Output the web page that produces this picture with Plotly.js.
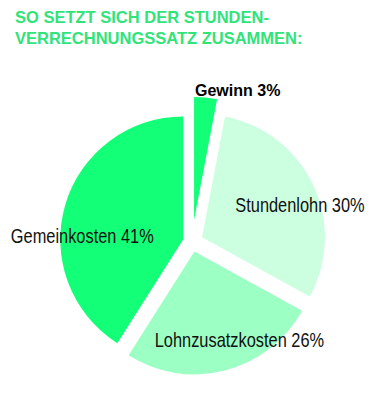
<!DOCTYPE html>
<html>
<head>
<meta charset="utf-8">
<script src="https://cdn.plot.ly/plotly-3.0.1.min.js"></script>
<style>
html,body{margin:0;padding:0;background:#fff;}
#chart{width:388px;height:395px;}
.annotation[data-index="2"] text,
.annotation[data-index="3"] text,
.annotation[data-index="4"] text{
  transform: scaleX(0.82); transform-box: fill-box; transform-origin: center;
}
</style>
</head>
<body>
<div id="chart"></div>
<script>
const labels = ['Gewinn', 'Stundenlohn', 'Lohnzusatzkosten', 'Gemeinkosten'];
const values = [3, 30, 26, 41];
const colors = ['#14ff78', '#ccffe0', '#9cffc4', '#14ff78'];
const pulls = [0.18, 0.09, 0.08, 0.075];
// label placement (pixels from top-left) and styles
const labelX = [193, 300, 239, 82];
const labelY = [90, 205, 340, 236];
const labelAnchor = ['left', 'center', 'center', 'center'];
const labelBold = [true, false, false, false];
const titleText = 'SO SETZT SICH DER STUNDEN-<br>VERRECHNUNGSSATZ ZUSAMMEN:';

const W = 388, H = 395;
const plain = '"Liberation Sans", Arial, sans-serif';

const annotations = [{
  text: '<b>' + titleText + '</b>',
  xref: 'paper', yref: 'paper',
  x: 13 / W, y: 1 - 6 / H, xanchor: 'left', yanchor: 'top', align: 'left',
  showarrow: false,
  font: {family: plain, size: 16.5, color: '#30e47a'}
}].concat(labels.map((l, i) => ({
  text: labelBold[i] ? '<b>' + l + ' ' + values[i] + '%</b>' : l + ' ' + values[i] + '%',
  xref: 'paper', yref: 'paper',
  x: labelX[i] / W, y: 1 - labelY[i] / H,
  xanchor: labelAnchor[i], yanchor: 'middle',
  showarrow: false,
  font: labelBold[i] ? {family: plain, size: 16, color: '#000'} : {family: plain, size: 20, color: '#111'}
})));

const data = [{
  type: 'pie',
  labels: labels,
  values: values,
  sort: false,
  direction: 'clockwise',
  rotation: 0,
  pull: pulls,
  marker: {colors: colors, line: {width: 0}},
  textinfo: 'none',
  hoverinfo: 'label+percent',
  domain: {x: [47 / W, 337 / W], y: [1 - 387 / H, 1 - 97 / H]},
  showlegend: false
}];

const layout = {
  width: W, height: H,
  margin: {l: 0, r: 0, t: 0, b: 0},
  paper_bgcolor: '#fff',
  annotations: annotations,
  showlegend: false
};

Plotly.newPlot('chart', data, layout, {displayModeBar: false, staticPlot: true});
</script>
</body>
</html>
